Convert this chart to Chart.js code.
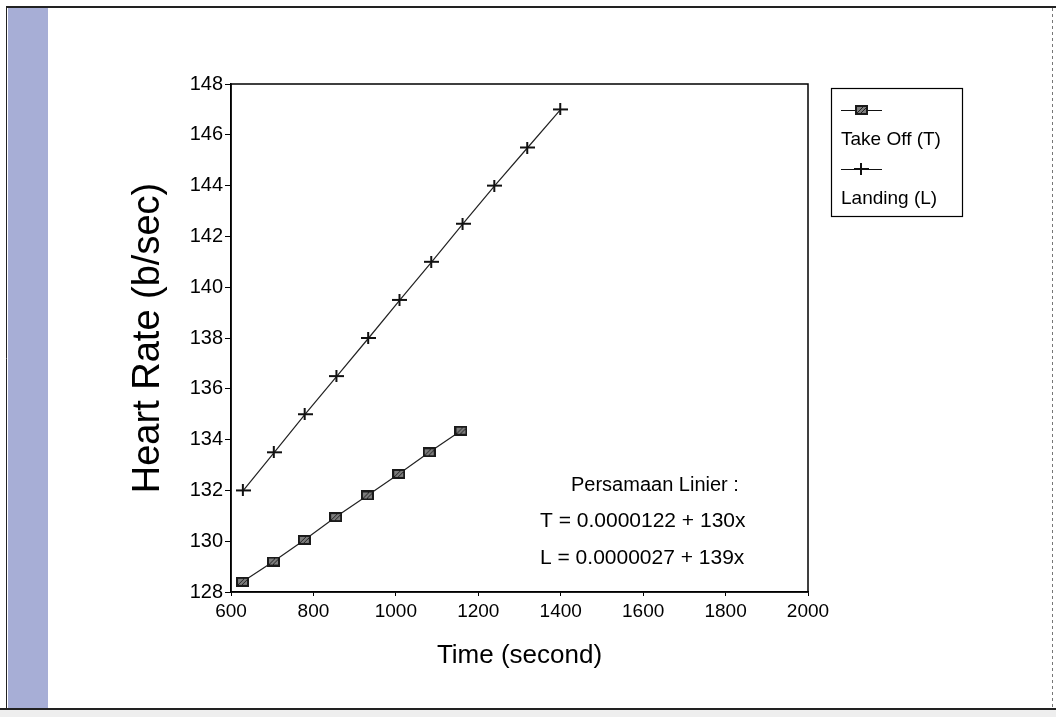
<!DOCTYPE html>
<html>
<head>
<meta charset="utf-8">
<script src="https://cdn.jsdelivr.net/npm/chart.js@4.4.1/dist/chart.umd.min.js"></script>
<style>
	html, body { margin: 0; padding: 0; background: #fff; }
	#wrap { width: 1056px; height: 717px; position: relative; }
</style>
</head>
<body>
<div id="wrap"><canvas id="chart" width="1056" height="717"></canvas></div>
<script>
// values
const timeTakeOff = [628, 703, 778, 854, 931, 1007, 1081, 1158];
const rateTakeOff = [128.4, 129.2, 130.05, 130.95, 131.8, 132.65, 133.5, 134.35];
const timeLanding = [630, 705, 780, 857, 934, 1010, 1087, 1163, 1240, 1320, 1400];
const rateLanding = [132, 133.5, 135, 136.5, 138, 139.5, 141, 142.5, 144, 145.5, 147];
const seriesNames = ['Take Off (T)', 'Landing (L)'];
const xTicks = [600, 800, 1000, 1200, 1400, 1600, 1800, 2000];
const yTicks = [128, 130, 132, 134, 136, 138, 140, 142, 144, 146, 148];
const equationLines = ['Persamaan Linier :', 'T = 0.0000122 + 130x', 'L = 0.0000027 + 139x'];
const xTitle = 'Time (second)';
const yTitle = 'Heart Rate (b/sec)';

const FONT = "'Liberation Sans', Arial, Helvetica, sans-serif";

// marker images
let squareMarker = () => {
	let c = document.createElement('canvas');
	c.width = 13; c.height = 10;
	let g = c.getContext('2d');
	g.fillStyle = '#1a1a1a';
	g.fillRect(0, 0, 13, 10);
	g.fillStyle = '#7d7d7d';
	g.fillRect(2, 2, 9, 6);
	g.strokeStyle = '#222';
	g.lineWidth = 1;
	g.beginPath();
	g.moveTo(2, 8); g.lineTo(8, 2);
	g.moveTo(6, 8); g.lineTo(11, 3);
	g.stroke();
	return c;
};
let plusMarker = () => {
	let c = document.createElement('canvas');
	c.width = 15; c.height = 12;
	let g = c.getContext('2d');
	g.fillStyle = '#111';
	g.fillRect(0, 5, 15, 2);
	g.fillRect(6, 0, 2, 12);
	return c;
};
const markT = squareMarker();
const markL = plusMarker();

let toPoints = (xs, ys) => xs.map((x, i) => ({ x: x, y: ys[i] }));

// page frame of the scan
const framePlugin = {
	id: 'frame',
	beforeDraw(chart) {
		let ctx = chart.ctx;
		ctx.save();
		ctx.fillStyle = '#ffffff';
		ctx.fillRect(0, 0, 1056, 717);
		ctx.fillStyle = '#a7aed6';
		ctx.fillRect(8, 8, 40, 700);
		ctx.fillStyle = '#eeeeee';
		ctx.fillRect(0, 710, 1056, 7);
		ctx.strokeStyle = '#222';
		ctx.lineWidth = 2;
		ctx.beginPath();
		ctx.moveTo(6, 7); ctx.lineTo(1056, 7);
		ctx.moveTo(0, 709); ctx.lineTo(1056, 709);
		ctx.stroke();
		ctx.lineWidth = 1;
		ctx.beginPath();
		ctx.moveTo(6.5, 8); ctx.lineTo(6.5, 709);
		ctx.stroke();
		ctx.setLineDash([3, 3]);
		ctx.strokeStyle = '#777';
		ctx.beginPath();
		ctx.moveTo(1052.5, 8); ctx.lineTo(1052.5, 708);
		ctx.stroke();
		ctx.restore();
	},
	afterDraw(chart) {
		let ctx = chart.ctx;
		let a = chart.chartArea;
		ctx.save();
		ctx.strokeStyle = '#000';
		ctx.lineWidth = 1.5;
		ctx.strokeRect(a.left, a.top, a.right - a.left, a.bottom - a.top);

		// equation text
		ctx.fillStyle = '#000';
		ctx.textBaseline = 'middle';
		ctx.font = '20px ' + FONT;
		ctx.fillText(equationLines[0], a.left + 340, a.bottom - 107);
		ctx.font = '21px ' + FONT;
		ctx.fillText(equationLines[1], a.left + 309, a.bottom - 71);
		ctx.fillText(equationLines[2], a.left + 309, a.bottom - 34);

		// legend box
		let lx = 831, ly = 88, lw = 131, lh = 128;
		ctx.lineWidth = 1.2;
		ctx.strokeRect(lx + 0.5, ly + 0.5, lw, lh);
		let marks = [markT, markL];
		ctx.font = '19px ' + FONT;
		seriesNames.forEach((name, i) => {
			let y0 = ly + 22 + i * 59;
			ctx.strokeStyle = '#111';
			ctx.lineWidth = 1.2;
			ctx.beginPath();
			ctx.moveTo(lx + 10, y0 + 0.5);
			ctx.lineTo(lx + 51, y0 + 0.5);
			ctx.stroke();
			let m = marks[i];
			ctx.drawImage(m, lx + 30 - Math.floor(m.width / 2), y0 - Math.floor(m.height / 2));
			ctx.fillText(name, lx + 10, y0 + 30);
		});
		ctx.restore();
	}
};

let data = {
	datasets: [{
		label: seriesNames[0],
		data: toPoints(timeTakeOff, rateTakeOff),
		borderColor: '#222',
		borderWidth: 1.2,
		pointStyle: markT,
		pointRadius: 6,
		showLine: true,
		tension: 0
	}, {
		label: seriesNames[1],
		data: toPoints(timeLanding, rateLanding),
		borderColor: '#222',
		borderWidth: 1.2,
		pointStyle: markL,
		pointRadius: 6,
		showLine: true,
		tension: 0
	}]
};

let config = {
	type: 'scatter',
	data: data,
	options: {
		responsive: false,
		animation: false,
		devicePixelRatio: 1,
		layout: { padding: { left: 122, top: 84, right: 248, bottom: 42 } },
		plugins: {
			legend: { display: false },
			tooltip: { enabled: false }
		},
		scales: {
			x: {
				type: 'linear',
				min: xTicks[0],
				max: xTicks[xTicks.length - 1],
				afterBuildTicks: s => { s.ticks = xTicks.map(v => ({ value: v })); },
				ticks: { color: '#000', font: { family: FONT, size: 19 }, padding: 4, maxRotation: 0, callback: v => String(v) },
				grid: { drawOnChartArea: false, tickLength: 4, color: '#000' },
				border: { color: '#000', width: 1.5 },
				title: { display: true, text: xTitle, color: '#000', font: { family: FONT, size: 26 }, padding: { top: 4, bottom: 4 } },
				afterFit: s => { s.height = 83; }
			},
			y: {
				type: 'linear',
				min: yTicks[0],
				max: yTicks[yTicks.length - 1],
				afterBuildTicks: s => { s.ticks = yTicks.map(v => ({ value: v })); },
				ticks: { color: '#000', font: { family: FONT, size: 20 }, padding: 2, callback: v => String(v) },
				grid: { drawOnChartArea: false, tickLength: 6, color: '#000' },
				border: { color: '#000', width: 1.5 },
				title: { display: true, text: yTitle, color: '#000', font: { family: FONT, size: 38 }, padding: { top: 4, bottom: 4 } },
				afterFit: s => { s.width = 109; }
			}
		}
	},
	plugins: [framePlugin]
};

let myChart = new Chart(document.getElementById('chart'), config);
</script>
</body>
</html>
